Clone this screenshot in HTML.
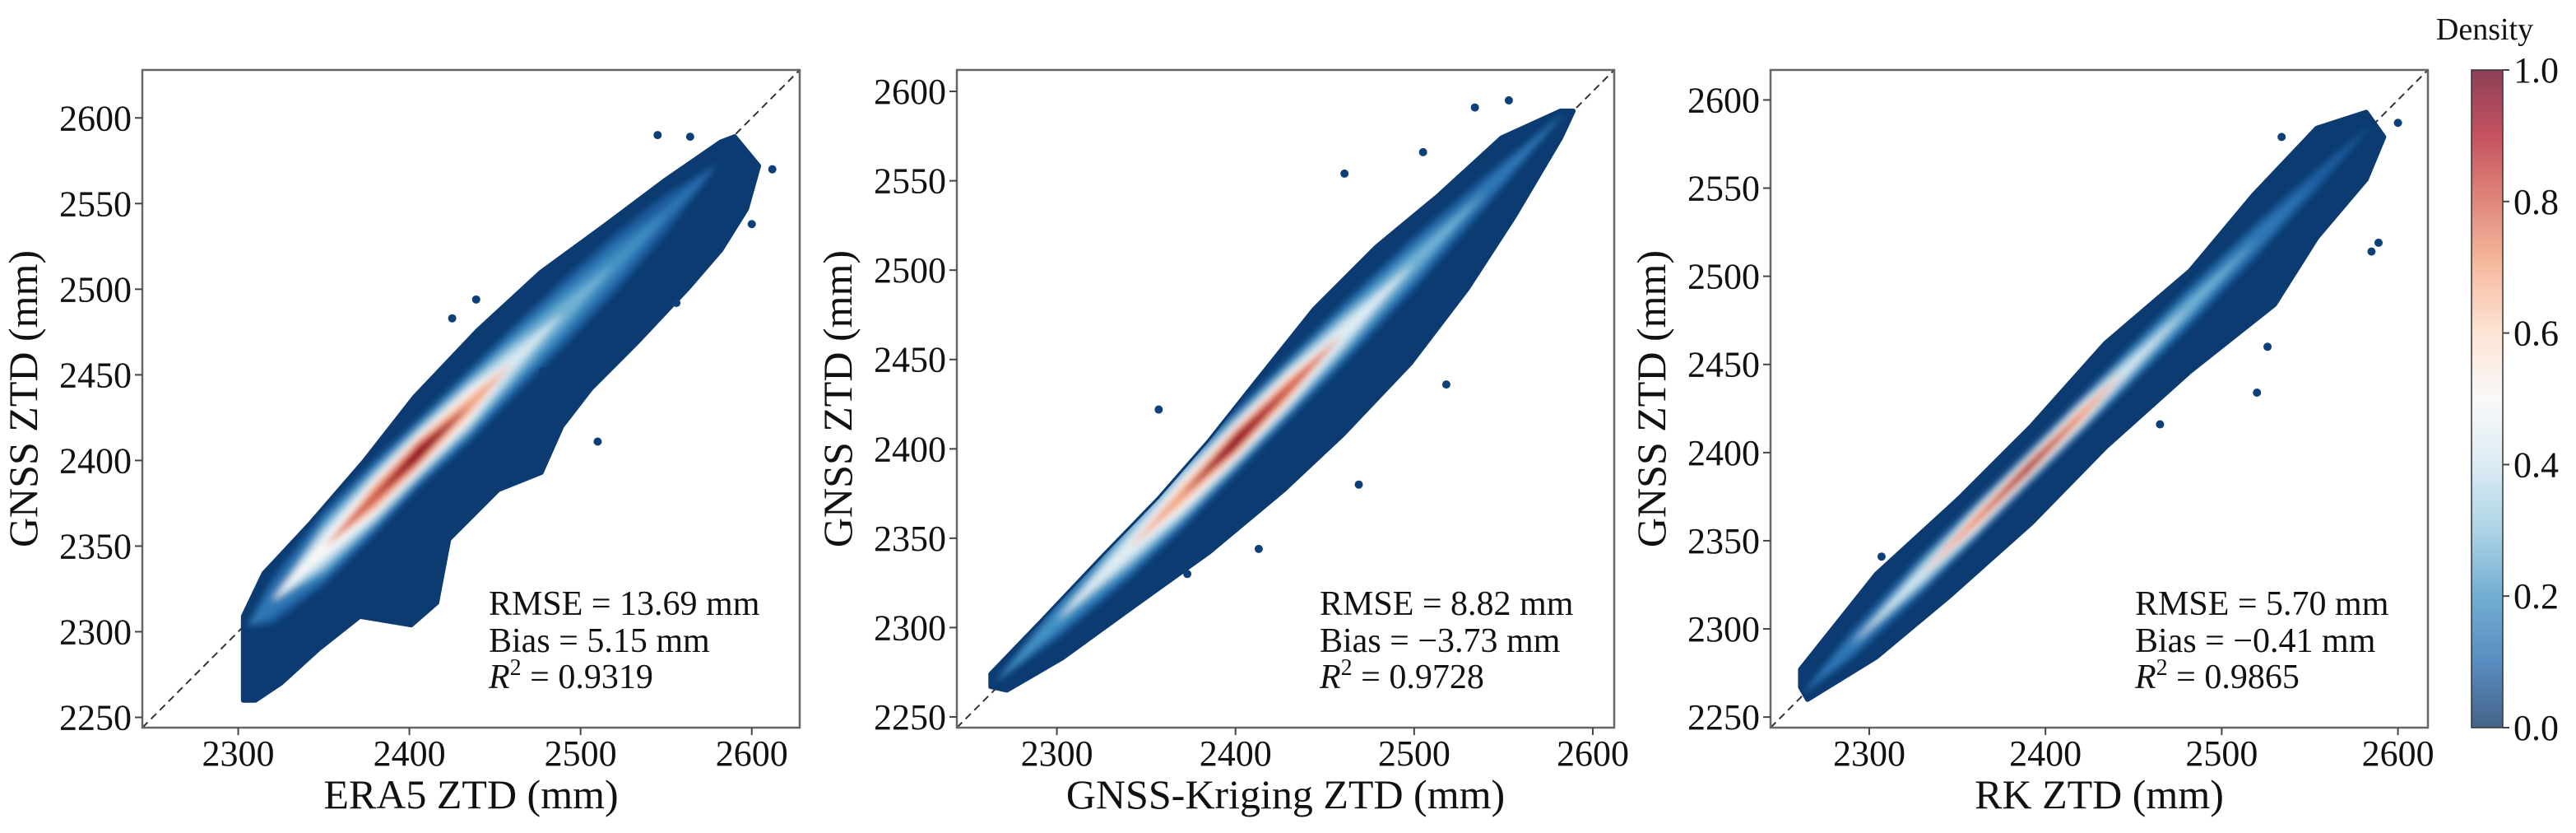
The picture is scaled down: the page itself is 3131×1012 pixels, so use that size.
<!DOCTYPE html>
<html><head><meta charset="utf-8"><style>
html,body{margin:0;padding:0;background:#fff}
svg{display:block}
text{font-family:"Liberation Serif","DejaVu Serif",serif;fill:#111}
</style></head><body>
<svg id="fig" xmlns="http://www.w3.org/2000/svg" width="3131" height="1012" viewBox="0 0 3131 1012">
<defs>
<filter id="blur" x="-5%" y="-5%" width="110%" height="110%"><feGaussianBlur stdDeviation="4"/></filter>
<linearGradient id="cbgrad" x1="0" y1="1" x2="0" y2="0">
<stop offset="0" stop-color="#053061"/><stop offset="0.1" stop-color="#2166ac"/><stop offset="0.2" stop-color="#4393c3"/><stop offset="0.3" stop-color="#92c5de"/><stop offset="0.4" stop-color="#d1e5f0"/><stop offset="0.5" stop-color="#f7f7f7"/><stop offset="0.6" stop-color="#fddbc7"/><stop offset="0.7" stop-color="#f4a582"/><stop offset="0.8" stop-color="#d6604d"/><stop offset="0.9" stop-color="#b2182b"/><stop offset="1" stop-color="#67001f"/>
</linearGradient>
</defs>
</svg>
<script>
// ---- data ----
const xTicks = [2300, 2400, 2500, 2600];
const yTicks = [2250, 2300, 2350, 2400, 2450, 2500, 2550, 2600];
const xTitles = ["ERA5 ZTD (mm)", "GNSS-Kriging ZTD (mm)", "RK ZTD (mm)"];
const rmseLabels = ["RMSE = 13.69 mm", "RMSE = 8.82 mm", "RMSE = 5.70 mm"];
const biasLabels = ["Bias = 5.15 mm", "Bias = \u22123.73 mm", "Bias = \u22120.41 mm"];
const r2Labels = ["0.9319", "0.9728", "0.9865"];
const domainMin = [2244, 2244, 2244];
const domainMax = [2628, 2612, 2617];
const cbTicks = [0.0, 0.2, 0.4, 0.6, 0.8, 1.0];
const densityLevels = [0.08, 0.14, 0.2, 0.26, 0.32, 0.38, 0.44, 0.5, 0.58, 0.66, 0.74, 0.82, 0.9, 0.97];

// panel 1 (ERA5)
const p1EnvX = [2303,2303,2315,2342,2374,2403,2440,2477,2514,2550,2582,2590,2604,2597,2582,2563,2533,2506,2489,2477,2452,2423,2416,2401,2371,2347,2325,2310];
const p1EnvY = [2260,2309,2334,2363,2400,2437,2476,2510,2537,2564,2586,2589,2572,2547,2523,2501,2469,2442,2420,2393,2383,2354,2317,2304,2309,2290,2270,2260];
const p1RidgeX = [2305,2320,2350,2380,2405,2435,2460,2490,2520,2550,2580];
const p1RidgeY = [2303,2318,2349,2379,2404,2432,2457,2486,2515,2544,2573];
const p1Peak = [0.05,0.2,0.55,0.85,1.0,0.75,0.45,0.3,0.22,0.15,0.05];
const p1Sigma = [6,10,11,10,9,10,11,12,12,10,7];
const p1OutX = [2545,2564,2612,2425,2439,2556,2510,2600,2478];
const p1OutY = [2590,2589,2570,2483,2494,2492,2411,2538,2452];

// panel 2 (GNSS-Kriging)
const p2EnvX = [2263,2291,2326,2357,2385,2408,2444,2479,2514,2549,2582,2589,2582,2556,2530,2498,2460,2427,2385,2343,2303,2272,2263];
const p2EnvY = [2274,2303,2340,2372,2404,2433,2478,2513,2542,2574,2589,2589,2574,2530,2490,2448,2408,2377,2342,2312,2283,2265,2267];
const p2RidgeX = [2265,2300,2340,2370,2400,2430,2460,2500,2540,2585];
const p2RidgeY = [2269,2304,2344,2374,2404,2434,2464,2504,2544,2589];
const p2Peak = [0.05,0.25,0.5,0.75,1.0,0.85,0.5,0.3,0.18,0.05];
const p2Sigma = [4,7,9,9,8,8,9,9,7,4];
const p2OutX = [2534,2553,2461,2518,2469,2373,2357,2413,2505];
const p2OutY = [2591,2595,2554,2436,2380,2330,2422,2344,2566];

// panel 3 (RK)
const p3EnvX = [2261,2304,2351,2392,2434,2482,2518,2554,2582,2592,2582,2554,2530,2482,2434,2392,2346,2304,2265,2261];
const p3EnvY = [2277,2331,2374,2415,2462,2503,2546,2584,2593,2579,2555,2522,2484,2446,2403,2360,2319,2284,2260,2267];
const p3RidgeX = [2262,2290,2330,2360,2390,2420,2445,2480,2520,2555,2585];
const p3RidgeY = [2263,2291,2331,2361,2391,2421,2446,2481,2521,2556,2586];
const p3Peak = [0.05,0.2,0.45,0.8,1.0,0.8,0.45,0.3,0.2,0.12,0.05];
const p3Sigma = [4,6,6,5,4.5,5,6,7,7,6,4];
const p3OutX = [2600,2589,2520,2465,2307,2534,2526,2585];
const p3OutY = [2587,2519,2434,2416,2341,2579,2460,2514];

// ---- layout ----
const panelLeft = [173, 1163, 2152];
const panelTop = 85, panelSize = 799;
const NS = "http://www.w3.org/2000/svg";
const svg = document.getElementById("fig");
function mk(tag, attrs, parent) {
  const e = document.createElementNS(NS, tag);
  for (const k in attrs) e.setAttribute(k, attrs[k]);
  (parent || svg).appendChild(e);
  return e;
}
const stops = [[0,[5,48,97]],[0.1,[33,102,172]],[0.2,[67,147,195]],[0.3,[146,197,222]],[0.4,[209,229,240]],[0.5,[247,247,247]],[0.6,[253,219,199]],[0.7,[244,165,130]],[0.8,[214,96,77]],[0.9,[178,24,43]],[1,[103,0,31]]];
function cmap(v) {
  for (let i = 1; i < stops.length; i++) {
    if (v <= stops[i][0]) {
      const t = (v - stops[i-1][0]) / (stops[i][0] - stops[i-1][0]);
      const a = stops[i-1][1], b = stops[i][1];
      return "rgb(" + a.map((c, j) => Math.round(c + (b[j]-c)*t)).join(",") + ")";
    }
  }
  return "rgb(103,0,31)";
}

const panels = [
  {envX:p1EnvX, envY:p1EnvY, rX:p1RidgeX, rY:p1RidgeY, peak:p1Peak, sig:p1Sigma, oX:p1OutX, oY:p1OutY},
  {envX:p2EnvX, envY:p2EnvY, rX:p2RidgeX, rY:p2RidgeY, peak:p2Peak, sig:p2Sigma, oX:p2OutX, oY:p2OutY},
  {envX:p3EnvX, envY:p3EnvY, rX:p3RidgeX, rY:p3RidgeY, peak:p3Peak, sig:p3Sigma, oX:p3OutX, oY:p3OutY}
];

panels.forEach((P, pi) => {
  const L = panelLeft[pi], T = panelTop, S = panelSize;
  const d0 = domainMin[pi], d1 = domainMax[pi];
  const sx = v => L + (v - d0) / (d1 - d0) * S;
  const sy = v => T + (d1 - v) / (d1 - d0) * S;
  const g = mk("g", {});
  
  

  const diag = mk("line", {x1: sx(d0), y1: sy(d0), x2: sx(d1), y2: sy(d1), stroke: "#333", "stroke-width": 2, "stroke-dasharray": "9,6"}, g);
  
  

  const clipId = "clip" + pi;
  const cp = mk("clipPath", {id: clipId}, svg.querySelector("defs"));
  const envPts = P.envX.map((x, i) => sx(x).toFixed(1) + "," + sy(P.envY[i]).toFixed(1)).join(" ");
  mk("polygon", {points: envPts}, cp);

  const env = mk("polygon", {points: envPts, fill: cmap(0.02), stroke: cmap(0.02), "stroke-width": 6, "stroke-linejoin": "round"}, g);
  
  

  const bands = mk("g", {"clip-path": "url(#" + clipId + ")"}, g);
  const bandsInner = mk("g", {filter: "url(#blur)"}, bands);
  densityLevels.forEach(lv => {
    const up = [], lo = [];
    let any = false;
    P.rX.forEach((x, i) => {
      const hw = P.peak[i] > lv ? P.sig[i] * Math.sqrt(2 * Math.log(P.peak[i] / lv)) : 0;
      if (hw > 0) any = true;
      up.push(sx(x).toFixed(1) + "," + sy(P.rY[i] + hw).toFixed(1));
      lo.push(sx(x).toFixed(1) + "," + sy(P.rY[i] - hw).toFixed(1));
    });
    if (!any) return;
    const b = mk("polygon", {points: up.concat(lo.reverse()).join(" "), fill: cmap(lv)}, bandsInner);
    
    
  });

  P.oX.forEach((x, i) => {
    const c = mk("circle", {cx: sx(x), cy: sy(P.oY[i]), r: 5, fill: cmap(0.03)}, g);
    
    
  });

  const frame = mk("rect", {x: L, y: T, width: S, height: S, fill: "none", stroke: "#666", "stroke-width": 2.5}, g);
  
  

  xTicks.forEach(t => {
    const x = sx(t);
    const tl = mk("line", {x1: x, y1: T+S, x2: x, y2: T+S+9, stroke: "#444", "stroke-width": 2}, g);
    
    
    const tx = mk("text", {x: x, y: T+S+46, "text-anchor": "middle", "font-size": 44}, g);
    tx.textContent = t;
    
    
  });
  yTicks.forEach(t => {
    const y = sy(t);
    const tl = mk("line", {x1: L-9, y1: y, x2: L, y2: y, stroke: "#444", "stroke-width": 2}, g);
    
    
    const tx = mk("text", {x: L-13, y: y+15, "text-anchor": "end", "font-size": 44}, g);
    tx.textContent = t;
    
    
  });

  const xt = mk("text", {x: L + S/2, y: T+S+98, "text-anchor": "middle", "font-size": 50}, g);
  xt.textContent = xTitles[pi];
  
  
  const yx = L - 128, yy = T + S/2;
  const yt = mk("text", {x: yx, y: yy, "text-anchor": "middle", "font-size": 50, transform: "rotate(-90 " + yx + " " + yy + ")"}, g);
  yt.textContent = "GNSS ZTD (mm)";
  
  

  const ax = [594, 1604, 2595][pi];
  const a1 = mk("text", {x: ax, y: 747, "font-size": 42}, g);
  a1.textContent = rmseLabels[pi];
  
  
  const a2 = mk("text", {x: ax, y: 792, "font-size": 42}, g);
  a2.textContent = biasLabels[pi];
  
  
  const a3 = mk("text", {x: ax, y: 836, "font-size": 42}, g);
  
  
  const s1 = mk("tspan", {"font-style": "italic"}, a3); s1.textContent = "R";
  const s2 = mk("tspan", {dy: -16, "font-size": 28}, a3); s2.textContent = "2";
  const s3 = mk("tspan", {dy: 16}, a3); s3.textContent = " = " + r2Labels[pi];
});

// colorbar
const cbX = 3004, cbW = 38, cbT = 85, cbH = 799;
const cb = mk("rect", {x: cbX, y: cbT, width: cbW, height: cbH, fill: "url(#cbgrad)", "fill-opacity": 0.75, stroke: "#333", "stroke-width": 1.5});


cbTicks.forEach(t => {
  const y = cbT + (1 - t) * cbH;
  const l = mk("line", {x1: cbX+cbW, y1: y, x2: cbX+cbW+8, y2: y, stroke: "#444", "stroke-width": 2});
  
  
  const tx = mk("text", {x: cbX+cbW+13, y: y+15, "font-size": 44});
  tx.textContent = t.toFixed(1);
  
  
});
const ct = mk("text", {x: 3020, y: 48, "text-anchor": "middle", "font-size": 38});
ct.textContent = "Density";


</script>
</body></html>
